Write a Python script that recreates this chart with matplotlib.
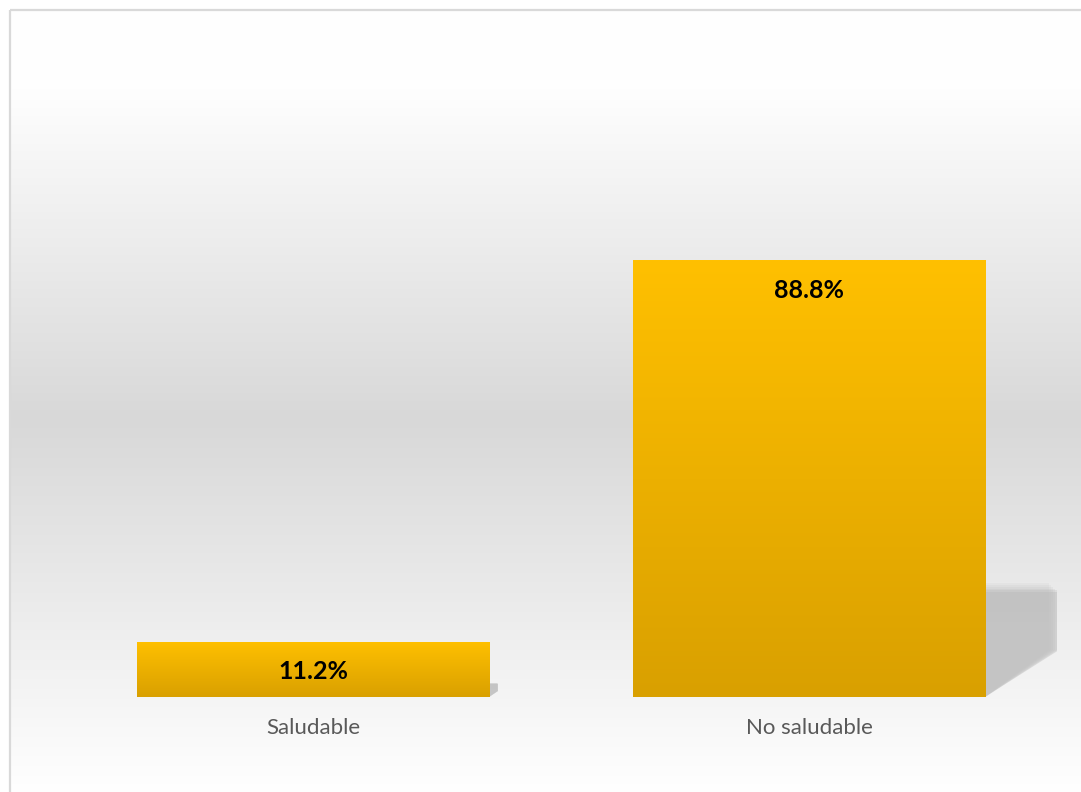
import numpy as np
import matplotlib
matplotlib.use("Agg")
import matplotlib.pyplot as plt
from matplotlib.patches import Rectangle, Polygon
from matplotlib.colors import LinearSegmentedColormap

categories = ["Saludable", "No saludable"]
values = [11.2, 88.8]
labels = ["11.2%", "88.8%"]

W, H = 1081, 792
fig = plt.figure(figsize=(W / 100, H / 100), dpi=100)
fig.patch.set_facecolor("white")

# background gradient with border
bg = fig.add_axes([0, 0, 1, 1], zorder=0)
bg.set_xlim(0, W)
bg.set_ylim(H, 0)
bg.axis("off")
bg_cmap = LinearSegmentedColormap.from_list(
    "bg", [(0, "#FFFFFF"), (0.1, "#FEFEFE"), (0.52, "#D8D8D8"), (1.0, "#FFFFFF")])
grad = np.linspace(0, 1, 400).reshape(-1, 1)
bg.imshow(grad, cmap=bg_cmap, aspect="auto", extent=[10, W + 5, H + 5, 10],
          vmin=0, vmax=1, interpolation="bicubic")
bg.add_patch(Rectangle((9.5, 9.5), W, H, fill=False, edgecolor="#D9D9D9", lw=1.6))

# plot axes: baseline at y=697 px, 100 units -> 492 px
px_per_unit = 4.92
base_px = 697
top_px = base_px - 100 * px_per_unit
left_px, right_px = 65, 1057
ax = fig.add_axes([left_px / W, 1 - base_px / H, (right_px - left_px) / W,
                   (base_px - top_px) / H], zorder=1)
ax.patch.set_alpha(0)
ax.set_xlim(-0.5, 1.5)
ax.set_ylim(0, 100)
for s in ax.spines.values():
    s.set_visible(False)
ax.set_yticks([])
ax.tick_params(axis="x", length=0, pad=15, labelsize=16, labelcolor="#595959")
x = np.arange(len(categories))
ax.set_xticks(x)
ax.set_xticklabels(categories, fontfamily="Lato")

width = 0.71
bar_cmap = LinearSegmentedColormap.from_list("bar", ["#D9A000", "#FFC000"])

# perspective shadows (size proportional to bar height)
for xi, v in zip(x, values):
    xr = xi + width / 2
    sw = 0.00168 * v
    for k, a in zip(range(6), [0.12, 0.12, 0.15, 0.2, 0.25, 0.4]):
        d = (5 - k)
        poly = Polygon([(xr, 0), (xr, 0.24 * v + d * 0.004 * v),
                        (xr + sw - d * 0.004 * sw / 0.15, 0.24 * v + d * 0.004 * v),
                        (xr + sw - d * 0.004 * sw / 0.15, 0.107 * v)],
                       closed=True, facecolor="#B8B8B8", edgecolor="none",
                       alpha=a, zorder=1)
        ax.add_patch(poly)

bars = ax.bar(x, values, width=width, color="#FFC000", zorder=2)
for b in bars:
    x0, y0 = b.get_x(), b.get_y()
    w, h = b.get_width(), b.get_height()
    im = ax.imshow(np.linspace(0, 1, 256).reshape(-1, 1), cmap=bar_cmap,
                   aspect="auto", extent=[x0, x0 + w, y0, y0 + h],
                   origin="lower", zorder=3, vmin=0, vmax=1)
    im.set_clip_path(b)

ax.set_xlim(-0.5, 1.5)
ax.set_ylim(0, 100)

for xi, v, lab in zip(x, values, labels):
    ax.annotate(lab, (xi, v), xytext=(0, -30), textcoords="offset pixels",
                ha="center", va="center", fontsize=18, fontweight="bold",
                fontfamily="Lato", color="black", zorder=4)

fig.savefig("out.png", dpi=100)
